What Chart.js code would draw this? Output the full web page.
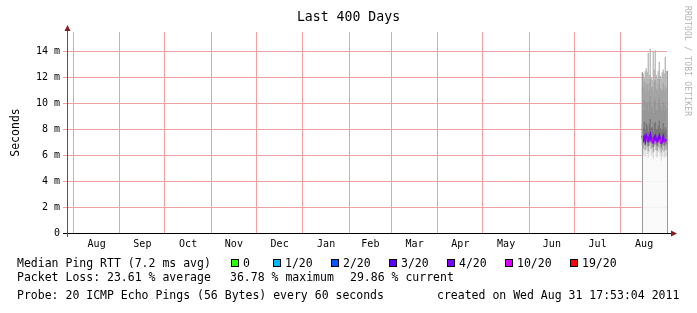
<!DOCTYPE html>
<html>
<head>
<meta charset="utf-8">
<script src="https://cdn.jsdelivr.net/npm/chart.js@4.4.1/dist/chart.umd.min.js"></script>
<style>
  body { margin: 0; background: #fff; }
  #wrap { position: relative; width: 697px; height: 313px; background: #fff; font-family: "DejaVu Sans Mono", monospace; color: #000; }
  #chartSmoke { position: absolute; left: 0; top: 0; }
  .txt { position: absolute; white-space: pre; font-size: 11.5px; line-height: 14px; }
  #title { position: absolute; left: 0; width: 697px; top: 8px; text-align: center; font-size: 13.2px; line-height: 18px; }
  #credit { position: absolute; left: 683px; top: 6px; writing-mode: vertical-rl; font-size: 8px; color: #b4b4b4; letter-spacing: 0.2px; }
  .box { position: absolute; width: 6px; height: 6px; border: 1px solid #000; }
</style>
</head>
<body>
<div id="wrap">
  <canvas id="chartSmoke" width="697" height="313"></canvas>
  <div id="title">Last 400 Days</div>
  <div id="credit">RRDTOOL / TOBI OETIKER</div>
  <div id="legendRow"></div>
  <div class="txt" style="left:17px; top:256px;">Median Ping RTT (7.2 ms avg)</div>
  <div class="txt" style="left:17px; top:270px;">Packet Loss: 23.61 % average</div>
  <div class="txt" style="left:230px; top:270px;">36.78 % maximum</div>
  <div class="txt" style="left:350px; top:270px;">29.86 % current</div>
  <div class="txt" style="left:17px; top:288px;">Probe: 20 ICMP Echo Pings (56 Bytes) every 60 seconds</div>
  <div class="txt" style="left:437px; top:288px;">created on Wed Aug 31 17:53:04 2011</div>
</div>
<script>
// sample times, days since start of the 400 day window (Jul 27 2010 17:53)
const sampleDays = [383.5, 384.17, 384.83, 385.5, 386.17, 386.83, 387.5, 388.17, 388.83, 389.5,
    390.17, 390.83, 391.5, 392.17, 392.83, 393.5, 394.17, 394.83, 395.5, 396.17,
    396.83, 397.5, 398.17, 398.83, 399.5];

// ping rtt in ms
const pingMin    = [6.2, 6.0, 6.3, 5.9, 6.4, 6.1, 5.8, 6.2, 6.5, 6.0, 6.1, 5.7, 6.3, 6.4, 5.9, 5.8, 6.2, 6.3, 6.0, 5.6, 5.9, 6.2, 5.8, 6.0, 5.9];
const pingLow    = [6.8, 6.5, 6.7, 6.4, 6.8, 6.6, 6.3, 6.7, 6.9, 6.5, 6.6, 6.2, 6.7, 6.8, 6.4, 6.3, 6.6, 6.8, 6.5, 6.2, 6.4, 6.7, 6.3, 6.5, 6.4];
const pingLower  = [7.2, 6.9, 7.1, 6.8, 7.2, 7.0, 6.7, 7.1, 7.3, 6.9, 7.0, 6.6, 7.1, 7.2, 6.8, 6.7, 7.0, 7.2, 6.9, 6.6, 6.8, 7.1, 6.7, 6.9, 6.8];
const medianRtt  = [7.5, 7.2, 7.4, 7.1, 7.5, 7.3, 7.0, 7.4, 7.6, 7.2, 7.3, 6.9, 7.4, 7.5, 7.1, 7.0, 7.3, 7.5, 7.2, 6.9, 7.1, 7.4, 7.0, 7.2, 7.1];
const pingUpper  = [8.4, 8.1, 8.6, 8.0, 8.5, 8.3, 7.9, 8.4, 8.8, 8.1, 8.2, 7.8, 8.5, 8.6, 8.0, 8.0, 8.3, 8.7, 8.1, 7.9, 8.0, 8.5, 7.9, 8.2, 8.0];
const pingHigh   = [9.9, 9.6, 10.3, 9.5, 10.1, 10.0, 9.4, 10.2, 10.6, 9.7, 9.8, 9.3, 10.2, 10.4, 9.6, 9.5, 10.0, 10.5, 9.8, 9.4, 9.6, 10.1, 9.5, 9.9, 9.7];
const pingHigher = [11.4, 11.2, 11.7, 11.0, 11.6, 11.5, 11.0, 11.6, 11.9, 11.1, 11.3, 10.9, 11.7, 11.8, 11.1, 11.0, 11.5, 11.9, 11.2, 11.0, 11.1, 11.6, 11.0, 11.4, 11.2];
const pingMax    = [12.4, 12.3, 12.0, 12.5, 12.7, 12.4, 13.9, 12.2, 14.2, 12.0, 11.8, 14.0, 12.6, 14.1, 12.2, 11.9, 12.5, 13.2, 12.1, 11.9, 12.4, 12.6, 12.3, 13.6, 12.5];
// lost pings out of 20
const lossCount  = [6, 5, 7, 6, 4, 10, 8, 5, 7, 6, 10, 6, 5, 7, 11, 6, 6, 5, 10, 6, 5, 7, 10, 6, 6];

const lossSteps  = [0, 1, 2, 3, 4, 10, 19];
const lossLabels = ["0", "1/20", "2/20", "3/20", "4/20", "10/20", "19/20"];
const lossColors = ["#26ff00", "#00b8ff", "#0059ff", "#5e00ff", "#7e00ff", "#dd00ff", "#ff0000"];

const windowStart = Date.UTC(2010, 6, 27, 17, 53);
const monthStarts = ["2010-08-01", "2010-09-01", "2010-10-01", "2010-11-01", "2010-12-01", "2011-01-01", "2011-02-01",
    "2011-03-01", "2011-04-01", "2011-05-01", "2011-06-01", "2011-07-01", "2011-08-01", "2011-09-01"];
const monthLabels = ["Aug", "Sep", "Oct", "Nov", "Dec", "Jan", "Feb", "Mar", "Apr", "May", "Jun", "Jul", "Aug"];
const yTicks = [0, 1, 2, 3, 4, 5, 6, 7, 8, 9, 10, 11, 12, 13, 14, 15];

// legend boxes
const boxLeft = [231, 273, 331, 389, 447, 505, 570];
const legendRow = document.getElementById("legendRow");
lossLabels.forEach((lab, i) => {
    const b = document.createElement("div");
    b.className = "box";
    b.style.left = boxLeft[i] + "px";
    b.style.top = "259px";
    b.style.background = lossColors[i];
    legendRow.appendChild(b);
    const t = document.createElement("div");
    t.className = "txt";
    t.style.left = (boxLeft[i] + 12) + "px";
    t.style.top = "256px";
    t.innerText = lab;
    legendRow.appendChild(t);
});

function lossColor(n) {
    let c = lossColors[0];
    lossSteps.forEach((s, i) => { if (n >= s) c = lossColors[i]; });
    return c;
}

function dayOf(str) {
    const p = str.split("-").map(Number);
    return (Date.UTC(p[0], p[1] - 1, p[2]) - windowStart) / 86400000;
}
const startDays = monthStarts.map(dayOf);
const gridDays = startDays.filter(d => d >= 0 && d <= 400);
const midDays = monthLabels.map((m, i) => (startDays[i] + startDays[i + 1]) / 2);

const xTickInfo = {};
gridDays.forEach(d => xTickInfo[d.toFixed(3)] = { grid: true, label: "" });
midDays.forEach((d, i) => xTickInfo[d.toFixed(3)] = { grid: false, label: monthLabels[i] });
const xTickValues = gridDays.concat(midDays).sort((a, b) => a - b);

function band(lo, hi) {
    return sampleDays.map((d, i) => ({ x: d, y: [lo ? lo[i] : 0, hi[i]] }));
}
const barStyle = { type: "bar", grouped: false, barPercentage: 1.25, categoryPercentage: 1, borderWidth: 0 };

const MONO = "'DejaVu Sans Mono', monospace";
const redGrid = "#f0a2a2";
const grayGrid = "#e2e2e2";

const axisDecor = {
    id: "axisDecor",
    afterDatasetsDraw(chart) {
        const ctx = chart.ctx;
        const xs = chart.scales.x, ys = chart.scales.y;
        const a = chart.chartArea;
        ctx.save();
        // smoke edges
        ctx.strokeStyle = "#9a9a9a";
        ctx.lineWidth = 1;
        const n = sampleDays.length - 1;
        [[0, -0.5], [n, 0.5]].forEach(([i, off]) => {
            const px = Math.round(xs.getPixelForValue(sampleDays[i]) + off) + 0.5;
            ctx.beginPath();
            ctx.moveTo(px, ys.getPixelForValue(0));
            ctx.lineTo(px, ys.getPixelForValue(pingMax[i]));
            ctx.stroke();
        });
        // axes
        ctx.strokeStyle = "#000";
        ctx.beginPath();
        ctx.moveTo(a.left - 4, a.bottom + 0.5);
        ctx.lineTo(a.right + 4, a.bottom + 0.5);
        ctx.stroke();
        ctx.strokeStyle = "#555";
        ctx.beginPath();
        ctx.moveTo(a.left + 0.5, a.bottom + 4);
        ctx.lineTo(a.left + 0.5, a.top - 2);
        ctx.stroke();
        ctx.fillStyle = "#8b1a1a";
        ctx.beginPath();
        ctx.moveTo(a.left + 0.5, a.top - 7);
        ctx.lineTo(a.left - 2.5, a.top - 1);
        ctx.lineTo(a.left + 3.5, a.top - 1);
        ctx.closePath();
        ctx.fill();
        ctx.beginPath();
        ctx.moveTo(a.right + 10, a.bottom + 0.5);
        ctx.lineTo(a.right + 4, a.bottom - 2.5);
        ctx.lineTo(a.right + 4, a.bottom + 3.5);
        ctx.closePath();
        ctx.fill();
        ctx.restore();
    }
};

new Chart(document.getElementById("chartSmoke"), {
    type: "bar",
    data: {
        datasets: [
            {
                type: "line",
                data: sampleDays.map((d, i) => ({ x: d, y: medianRtt[i] })),
                borderWidth: 2,
                pointRadius: 0,
                borderColor: lossColor(lossCount[0]),
                segment: { borderColor: c => lossColor(lossCount[c.p0DataIndex]) }
            },
            Object.assign({ data: band(pingLower, pingUpper), backgroundColor: "#6c6c6c" }, barStyle),
            Object.assign({ data: band(pingUpper, pingHigh), backgroundColor: "#8e8e8e" }, barStyle),
            Object.assign({ data: band(pingHigh, pingHigher), backgroundColor: "#9c9c9c" }, barStyle),
            Object.assign({ data: band(pingHigher, pingMax), backgroundColor: "#b2b2b2" }, barStyle),
            Object.assign({ data: band(pingLow, pingLower), backgroundColor: "#a4a4a4" }, barStyle),
            Object.assign({ data: band(pingMin, pingLow), backgroundColor: "#d8d8d8" }, barStyle),
            Object.assign({ data: band(null, pingMin), backgroundColor: "#f8f8f8" }, barStyle)
        ]
    },
    options: {
        responsive: false,
        animation: false,
        layout: { padding: { left: 8, right: 30, top: 32, bottom: 0 } },
        plugins: { legend: { display: false }, tooltip: { enabled: false } },
        scales: {
            x: {
                type: "linear",
                min: 0,
                max: 400,
                offset: false,
                afterBuildTicks: axis => { axis.ticks = xTickValues.map(v => ({ value: v })); },
                afterFit: scale => { scale.height = 80; },
                border: { display: false },
                grid: {
                    offset: false,
                    color: c => (c.tick && xTickInfo[c.tick.value.toFixed(3)] && xTickInfo[c.tick.value.toFixed(3)].grid) ? redGrid : "rgba(0,0,0,0)",
                    drawTicks: false
                },
                ticks: {
                    autoSkip: false,
                    maxRotation: 0,
                    padding: 5,
                    color: "#000",
                    font: { family: MONO, size: 10 },
                    callback: v => { const t = xTickInfo[Number(v).toFixed(3)]; return t ? t.label : ""; }
                }
            },
            y: {
                min: 0,
                max: 15.5,
                afterBuildTicks: axis => { axis.ticks = yTicks.map(v => ({ value: v })); },
                afterFit: scale => { scale.width = 59; },
                border: { display: false },
                grid: {
                    color: c => c.tick.value === 0 ? "rgba(0,0,0,0)" : (c.tick.value % 2 === 0 ? redGrid : grayGrid),
                    tickLength: 4
                },
                ticks: {
                    padding: 3,
                    color: "#000",
                    font: { family: MONO, size: 10 },
                    callback: v => v === 0 ? "0" : (v % 2 === 0 ? v + " m" : "")
                },
                title: {
                    display: true,
                    text: "Seconds",
                    color: "#000",
                    padding: { top: 1, bottom: 0 },
                    font: { family: MONO, size: 11.5 }
                }
            }
        }
    },
    plugins: [axisDecor]
});
</script>
</body>
</html>
